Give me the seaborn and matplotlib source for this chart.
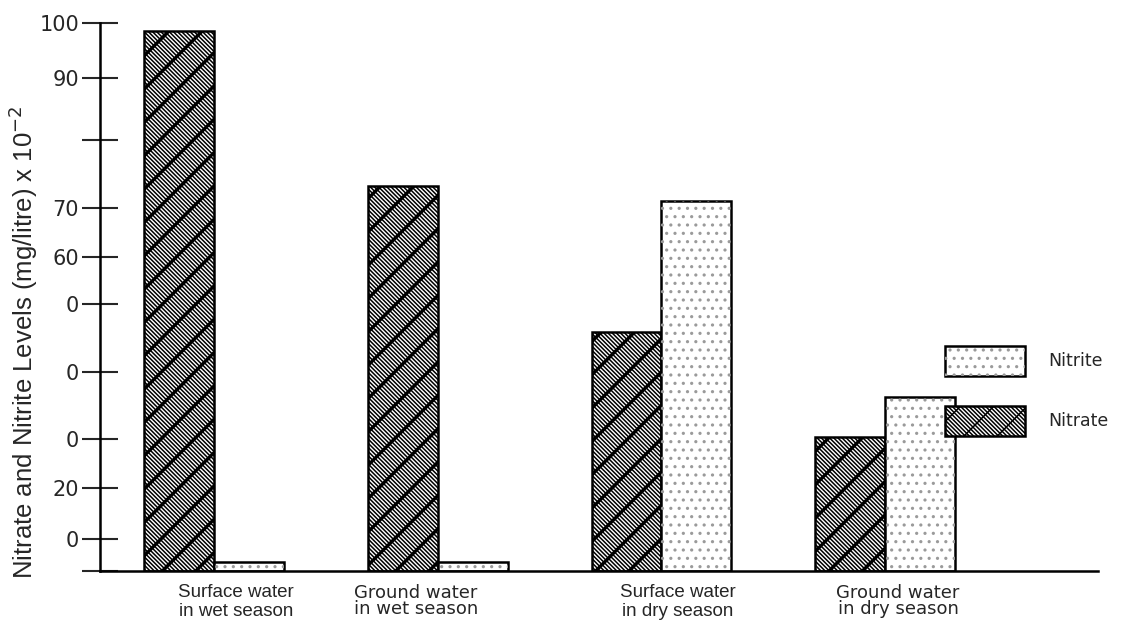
import pandas as pd
import seaborn as sns
import matplotlib.pyplot as plt
import matplotlib.transforms as mtransforms
from matplotlib.patches import Rectangle
from matplotlib.legend_handler import HandlerTuple

# values (units of the y axis, x 10^-2 mg/litre)
sites = ['Surface water\nin wet season', 'Ground water\nin wet season',
         'Surface water\nin dry season', 'Ground water\nin dry season']
nitrate = [98.5, 70.3, 43.6, 24.5]
nitrite = [1.6, 1.6, 67.5, 31.8]
ions = ['Nitrate', 'Nitrite']

# tick positions / labels as printed on the (odd) source axis
ytick_vals = [100, 90, 78.6, 66.2, 57.3, 48.7, 36.3, 24.1, 15.1, 5.8, 0]
ytick_text = ['100', '90', '', '70', '60', '0', '0', '0', '20', '0', '']

df = pd.DataFrame({
    'site': sites * 2,
    'ion': ['Nitrate'] * len(sites) + ['Nitrite'] * len(sites),
    'level': nitrate + nitrite,
})

BS = chr(92)  # backslash, for hatch strings
DENSE = BS * 8
DOT_COLOR = '#9a9a9a'

sns.set_style('white')
plt.rcParams['font.family'] = ['Liberation Sans', 'DejaVu Sans']
plt.rcParams['hatch.linewidth'] = 1.1

fig, ax = plt.subplots(figsize=(11.28, 6.29), dpi=100)
fig.subplots_adjust(left=0.0887, right=0.973, bottom=0.0922, top=0.963)

sns.barplot(data=df, x='site', y='level', hue='ion', hue_order=ions,
            palette=['white', 'white'], saturation=1, edgecolor='black',
            linewidth=1.8, width=0.625, gap=0, legend=False, ax=ax)

# nitrate: dense back-diagonal hatch + thick forward stripes
for bar in ax.containers[0]:
    bar.set_hatch(DENSE)
    with plt.rc_context({'hatch.linewidth': 2.4}):
        stripe = Rectangle(bar.get_xy(), bar.get_width(), bar.get_height(),
                           fill=False, edgecolor='black', lw=0, hatch='/',
                           zorder=bar.get_zorder() + 0.1)
    ax.add_patch(stripe)

# nitrite: light dotted fill
for bar in ax.containers[1]:
    dots = Rectangle(bar.get_xy(), bar.get_width(), bar.get_height(),
                     fill=False, edgecolor=DOT_COLOR, lw=0, hatch='..',
                     zorder=bar.get_zorder() + 0.1)
    ax.add_patch(dots)

ax.set_xlim(-0.51, 3.95)
ax.set_ylim(0, 100)
ax.set_yticks(ytick_vals)
ax.set_yticklabels(ytick_text, family='DejaVu Sans', fontsize=15)
ax.tick_params(axis='y', direction='inout', length=26, width=1.5, pad=2, left=True)
ax.tick_params(axis='x', length=0, pad=9)

ax.set_xticks(range(len(sites)))
ax.set_xticklabels(sites, fontsize=13.5, ha='center')
# the printed labels sit a little off the group centres
nudges = [22, -22, 16, 13]
for lbl, dx in zip(ax.get_xticklabels(), nudges):
    lbl.set_transform(lbl.get_transform() +
                      mtransforms.ScaledTranslation(dx / 100, 0, fig.dpi_scale_trans))
    if lbl.get_text().startswith('Ground'):
        lbl.set_family('DejaVu Sans')
        lbl.set_fontsize(13)
        lbl.set_linespacing(0.9)

ax.set_xlabel('')
ax.set_ylabel('Nitrate and Nitrite Levels (mg/litre) x 10$^{-2}$', fontsize=18.5)
ax.yaxis.set_label_coords(-0.060, 0.418)

sns.despine(ax=ax)
for side in ['left', 'bottom']:
    ax.spines[side].set_linewidth(1.8)
    ax.spines[side].set_color('black')

# legend with large boxes like the original
h_nitrite = (Rectangle((0, 0), 1, 1, facecolor='white', edgecolor='black', lw=1.8),
             Rectangle((0, 0), 1, 1, fill=False, edgecolor=DOT_COLOR, lw=0, hatch='..'))
base = Rectangle((0, 0), 1, 1, facecolor='white', edgecolor='black', lw=1.8, hatch=DENSE)
with plt.rc_context({'hatch.linewidth': 2.4}):
    thick = Rectangle((0, 0), 1, 1, fill=False, edgecolor='black', lw=0, hatch='/')
h_nitrate = (base, thick)

leg = ax.legend([h_nitrite, h_nitrate], ['Nitrite', 'Nitrate'],
                handler_map={tuple: HandlerTuple(ndivide=1, pad=0)},
                loc='upper left', bbox_to_anchor=(945 / 1128, 1 - 346 / 629),
                bbox_transform=fig.transFigure, frameon=False,
                prop={'family': 'DejaVu Sans', 'size': 12.5},
                handlelength=4.6, handleheight=2.28, labelspacing=1.72,
                handletextpad=1.32, borderpad=0, borderaxespad=0)

plt.savefig('out.png', dpi=100)
